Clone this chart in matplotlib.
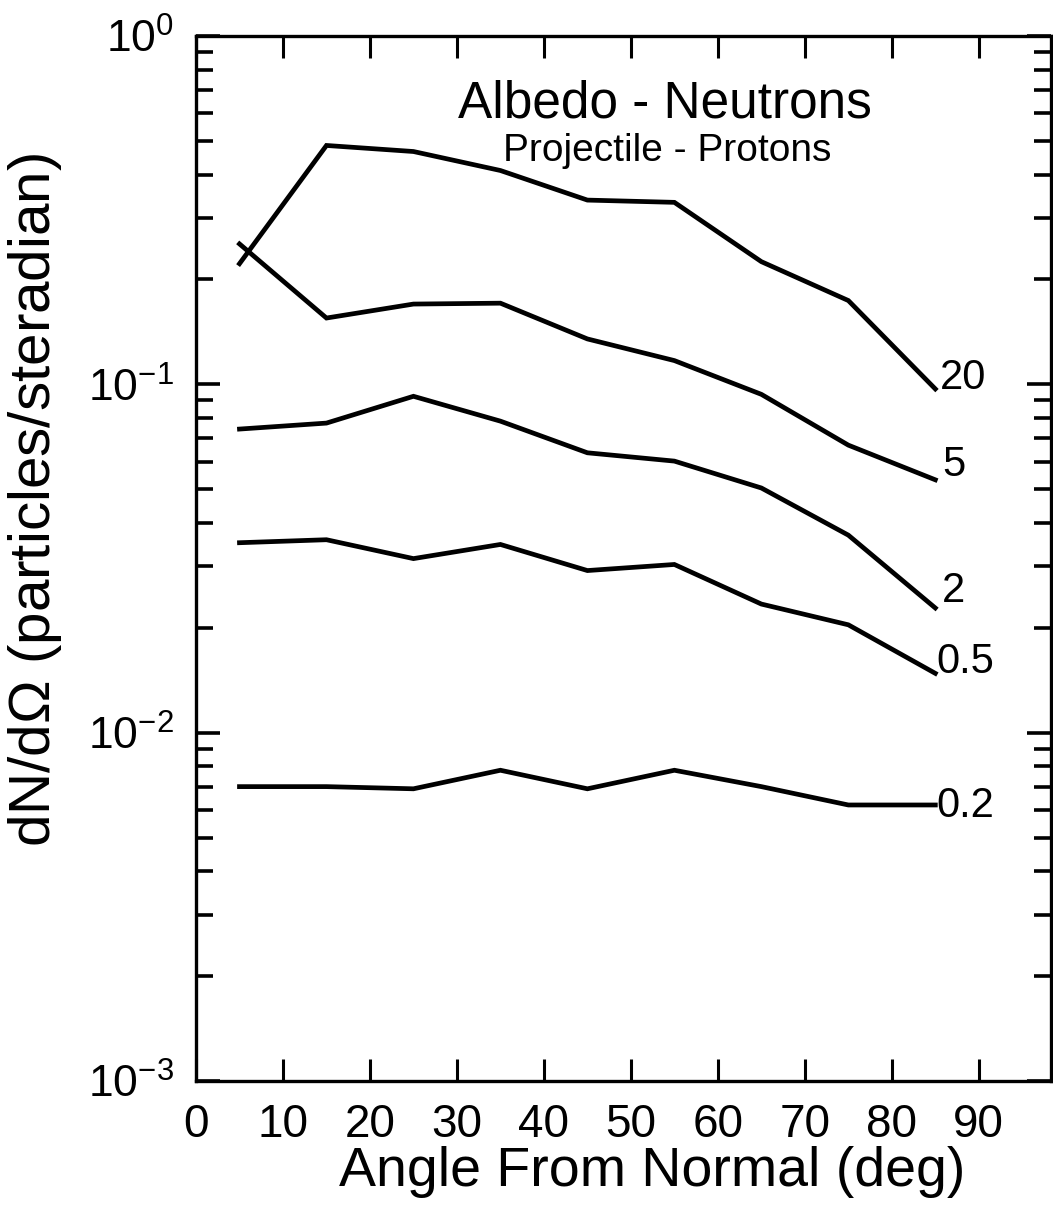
import matplotlib
matplotlib.use("Agg")
import matplotlib.pyplot as plt
from matplotlib.ticker import LogLocator, NullFormatter, FixedLocator


# angle from normal (deg) and albedo neutron yield for each proton energy
angles = [5, 15, 25, 35, 45, 55, 65, 75, 85]
yield_20 = [0.222, 0.485, 0.466, 0.411, 0.338, 0.333, 0.225, 0.174, 0.097]
yield_5 = [0.253, 0.155, 0.170, 0.171, 0.135, 0.117, 0.0936, 0.0669, 0.0532]
yield_2 = [0.0744, 0.0774, 0.0924, 0.0784, 0.0636, 0.0602, 0.0504, 0.0369, 0.0228]
yield_05 = [0.0351, 0.0358, 0.0316, 0.0347, 0.0292, 0.0304, 0.0234, 0.0204, 0.0148]
yield_02 = [0.0070, 0.0070, 0.0069, 0.0078, 0.0069, 0.0078, 0.0070, 0.0062, 0.0062]
curve_labels = ["20", "5", "2", "0.5", "0.2"]

x_ticks = [0, 10, 20, 30, 40, 50, 60, 70, 80, 90]

FONT = ["Liberation Sans", "DejaVu Sans"]
plt.rcParams['font.family'] = FONT
plt.rcParams['mathtext.fontset'] = 'custom'
plt.rcParams['mathtext.rm'] = 'Liberation Sans'
plt.rcParams['mathtext.it'] = 'Liberation Sans'


def main():
    W, H = 1053, 1216
    fig = plt.figure(figsize=(W / 100, H / 100), dpi=100)
    left, right, top, bottom = 196, 1051, 36, 1081
    ax = fig.add_axes([left / W, 1 - bottom / H, (right - left) / W, (bottom - top) / H])

    lw = 3.4
    series = [yield_20, yield_5, yield_2, yield_05, yield_02]
    for ys in series:
        ax.plot(angles, ys, color='black', lw=lw, solid_joinstyle='miter')

    # energy labels at the right end of each curve
    offsets = [(3, 0), (5, 3), (5, 4), (1, 0), (1, -9)]
    for ys, lab, off in zip(series, curve_labels, offsets):
        ax.annotate(lab, (angles[-1], ys[-1]), xytext=off, textcoords='offset points',
                    ha='left', va='baseline', fontsize=30)

    ax.set_yscale('log')
    ax.set_ylim(1e-3, 1)
    ax.set_xlim(0, 98.3)

    ax.xaxis.set_major_locator(FixedLocator(x_ticks))
    ax.set_xticklabels([str(t) for t in x_ticks])
    ax.yaxis.set_minor_locator(LogLocator(base=10, subs=range(2, 10), numticks=20))
    ax.yaxis.set_minor_formatter(NullFormatter())
    ax.set_yticks([1e-3, 1e-2, 1e-1, 1])
    ax.set_yticklabels([r'$10^{-3}$', r'$10^{-2}$', r'$10^{-1}$', r'$10^{0}$'])

    ax.tick_params(axis='x', which='major', direction='in', length=16, width=2.2,
                   top=True, bottom=True, labelsize=33, pad=16)
    ax.tick_params(axis='y', which='major', direction='in', length=17, width=2.6,
                   left=True, right=True, labelsize=32, pad=16)
    ax.tick_params(axis='y', which='minor', direction='in', length=12, width=2.6,
                   left=True, right=True)
    for sp in ax.spines.values():
        sp.set_linewidth(2.4)

    ax.set_xlabel("Angle From Normal (deg)", fontsize=40)
    ax.xaxis.set_label_coords(0.533, -0.062)
    ax.xaxis.label.set_va('top')
    ax.set_ylabel(r"dN/d$\Omega$ (particles/steradian)", fontsize=42)
    ax.yaxis.set_label_coords(-0.188, 0.556)
    ax.yaxis.label.set_va('center')

    fig.text(665 / W, 1 - 117 / H, "Albedo - Neutrons", fontsize=37,
             ha='center', va='baseline')
    fig.text(667 / W, 1 - 161 / H, "Projectile - Protons", fontsize=28,
             ha='center', va='baseline')

    fig.savefig("out.png", dpi=100)


if __name__ == '__main__':
    main()
